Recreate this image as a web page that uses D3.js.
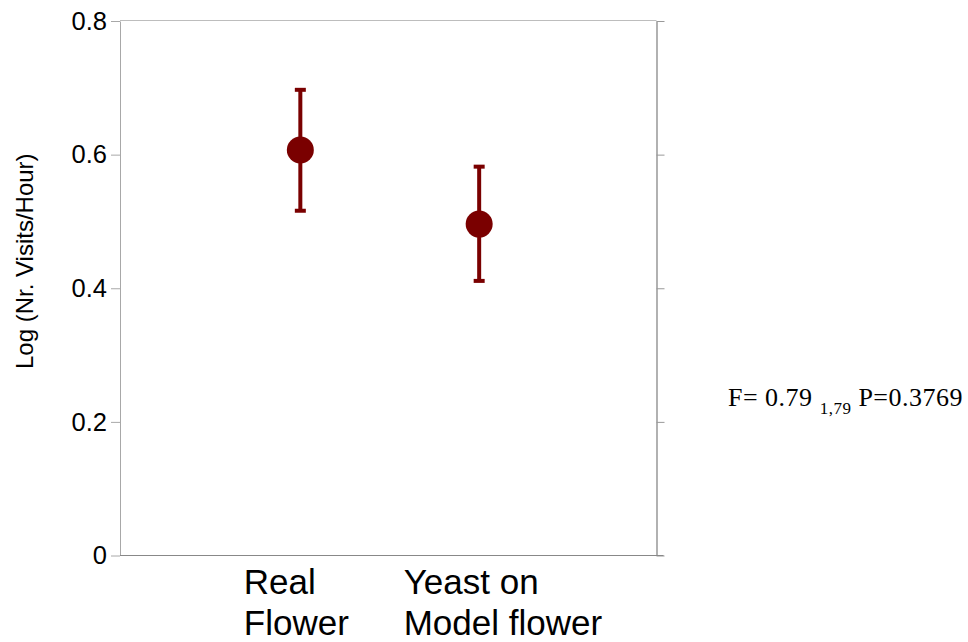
<!DOCTYPE html>
<html>
<head>
<meta charset="utf-8">
<script src="https://cdn.jsdelivr.net/npm/d3@7"></script>
<style>
  html, body { margin: 0; padding: 0; background: #fff; }
  svg { display: block; }
</style>
</head>
<body>
<svg id="chart" width="968" height="642"></svg>
<script>
// ---- data ----
const categories = ["Real Flower", "Yeast on Model flower"];
const labelLines = [["Real", "Flower"], ["Yeast on", "Model flower"]];
const means = [0.607, 0.496];
const upper = [0.697, 0.582];
const lower = [0.516, 0.411];
const yTicks = [0, 0.2, 0.4, 0.6, 0.8];
const yTickLabels = ["0", "0.2", "0.4", "0.6", "0.8"];
const yTitle = "Log (Nr. Visits/Hour)";
const statMain = "F= 0.79 ";
const statSub = "1,79";
const statTail = " P=0.3769";

// ---- layout ----
const svg = d3.select("#chart");
const L = 120, R = 656.5, T = 21, B = 555.5;
const red = "#7a0000";

const x = d3.scaleLinear().domain([-1, 2]).range([L + 1.5, R + 1.5]);
const y = d3.scaleLinear().domain([0, 0.8]).range([B, T]);

// top line
svg.append("line").attr("x1", L).attr("x2", R).attr("y1", T - 0.5).attr("y2", T - 0.5)
  .attr("stroke", "#bdbdbd").attr("stroke-width", 1.2);

// left axis
const gl = svg.append("g").attr("transform", `translate(${L},0)`)
  .call(d3.axisLeft(y).tickValues(yTicks).tickFormat((d, i) => yTickLabels[i]).tickSize(9).tickPadding(4).tickSizeOuter(0));
gl.select(".domain").attr("stroke", "#a8a8a8");
gl.selectAll(".tick line").attr("stroke", "#a8a8a8");
gl.selectAll(".tick text").attr("font-family", "Liberation Sans, Arial, sans-serif")
  .attr("font-size", 25.5).attr("fill", "#000");

// right axis
const gr = svg.append("g").attr("transform", `translate(${R},0)`)
  .call(d3.axisRight(y).tickValues(yTicks).tickFormat("").tickSize(8).tickSizeOuter(0));
gr.select(".domain").attr("stroke", "#888").attr("stroke-width", 1.3);
gr.selectAll(".tick line").attr("stroke", "#999");

// bottom line
svg.append("line").attr("x1", L).attr("x2", R + 7).attr("y1", B).attr("y2", B)
  .attr("stroke", "#888").attr("stroke-width", 1.2);

// y title
svg.append("text")
  .attr("transform", `translate(33,${(T + B) / 2 - 27}) rotate(-90)`)
  .attr("text-anchor", "middle")
  .attr("font-family", "Liberation Sans, Arial, sans-serif")
  .attr("font-size", 24)
  .attr("fill", "#000")
  .text(yTitle);

// error bars
const idx = d3.range(categories.length);
const gE = svg.append("g");
gE.selectAll(".stem").data(idx).join("line")
  .attr("x1", i => x(i)).attr("x2", i => x(i))
  .attr("y1", i => y(upper[i])).attr("y2", i => y(lower[i]))
  .attr("stroke", red).attr("stroke-width", 4);
gE.selectAll(".capT").data(idx).join("line")
  .attr("x1", i => x(i) - 5.5).attr("x2", i => x(i) + 5.5)
  .attr("y1", i => y(upper[i])).attr("y2", i => y(upper[i]))
  .attr("stroke", red).attr("stroke-width", 4);
gE.selectAll(".capB").data(idx).join("line")
  .attr("x1", i => x(i) - 5.5).attr("x2", i => x(i) + 5.5)
  .attr("y1", i => y(lower[i])).attr("y2", i => y(lower[i]))
  .attr("stroke", red).attr("stroke-width", 4);
gE.selectAll("circle").data(idx).join("circle")
  .attr("cx", i => x(i)).attr("cy", i => y(means[i])).attr("r", 13.5)
  .attr("fill", red);

// x labels (left-aligned blocks)
const labelShift = [-56.5, -75.5];
const gX = svg.append("g");
idx.forEach(i => {
  const t = gX.append("text")
    .attr("font-family", "Liberation Sans, Arial, sans-serif")
    .attr("font-size", 35)
    .attr("fill", "#000");
  labelLines[i].forEach((ln, k) => {
    t.append("tspan").attr("x", x(i) + labelShift[i]).attr("y", 594 + k * 41).text(ln);
  });
});

// stats text
const st = svg.append("text")
  .attr("x", 728).attr("y", 406)
  .attr("font-family", "Liberation Serif, Times New Roman, serif")
  .attr("font-size", 26)
  .attr("letter-spacing", 0.5)
  .attr("fill", "#000");
st.append("tspan").text(statMain);
st.append("tspan").attr("font-size", 17).attr("dy", 8).text(statSub);
st.append("tspan").attr("dy", -8).text(statTail);
</script>
</body>
</html>
